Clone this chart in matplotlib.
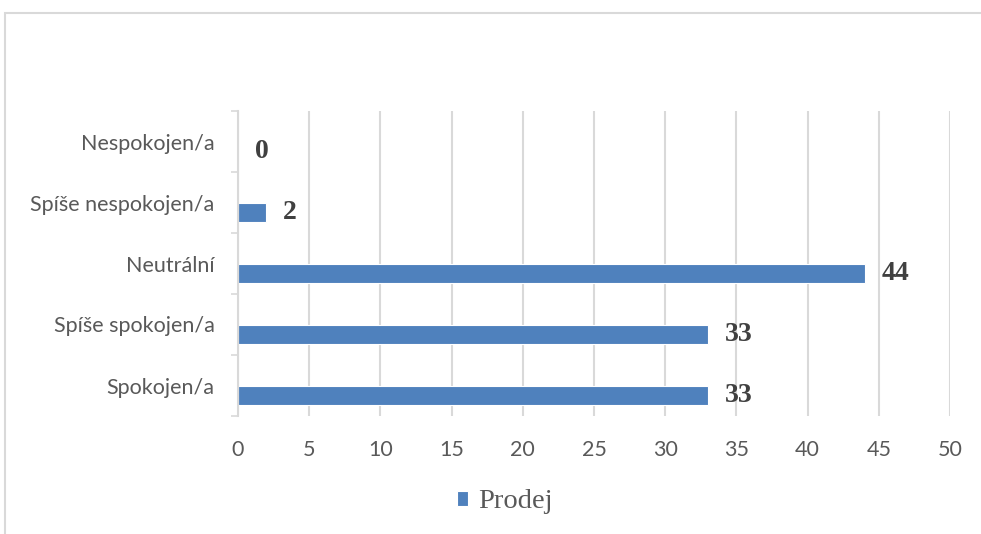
import matplotlib.pyplot as plt
from matplotlib.patches import Rectangle

# categories bottom -> top, as drawn on the chart
categories = ['Spokojen/a', 'Spíše spokojen/a', 'Neutrální', 'Spíše nespokojen/a', 'Nespokojen/a']
values = [33, 33, 44, 2, 0]
series_name = 'Prodej'
xticks = [0, 5, 10, 15, 20, 25, 30, 35, 40, 45, 50]

BLUE = '#4F81BD'
GRID = '#D9D9D9'
TEXT = '#595959'
SANS = 'Lato'

fig = plt.figure(figsize=(9.81, 5.34), dpi=100)
ax = fig.add_axes([238 / 981, 1 - 416 / 534, (950 - 238) / 981, (416 - 111) / 534])

# bars sit a little below the category centre (excel clustered layout)
ypos = [i - 0.165 for i in range(len(categories))]
bars = ax.barh(ypos, values, height=0.3, color=BLUE,
               edgecolor='white', linewidth=0.8, label=series_name, zorder=3)

ax.set_xlim(0, 50)
ax.set_ylim(-0.5, len(categories) - 0.5)
ax.set_xticks(xticks)
ax.set_yticks(range(len(categories)))
ax.set_yticklabels(categories, fontfamily=SANS, fontsize=15.5, color=TEXT)
for lbl in ax.get_xticklabels():
    lbl.set_fontfamily(SANS)
    lbl.set_fontsize(15.5)
    lbl.set_color(TEXT)

# category boundary ticks on the y axis
ax.set_yticks([i - 0.5 for i in range(len(categories) + 1)], minor=True)
ax.tick_params(axis='y', which='major', length=0, pad=17)
ax.tick_params(axis='y', which='minor', length=5, color=GRID, width=1.2)
ax.tick_params(axis='x', length=0, pad=17)

ax.grid(axis='x', color=GRID, linewidth=1.5, zorder=0)
for s in ['top', 'right', 'bottom']:
    ax.spines[s].set_visible(False)
ax.spines['left'].set_color(GRID)
ax.spines['left'].set_linewidth(1.5)
ax.spines['left'].set_zorder(4)

ax.bar_label(bars, padding=12, fontfamily='Liberation Serif', fontweight='bold',
             fontsize=20, color='#404040')

leg = fig.legend(loc='center', bbox_to_anchor=(505 / 981, 1 - 502 / 534), frameon=False,
                 prop={'family': 'Liberation Serif', 'size': 20.5},
                 handlelength=0.4, handleheight=0.4, handletextpad=0.35)
for t in leg.get_texts():
    t.set_color(TEXT)

# outer chart border
fig.patches.append(Rectangle((5 / 981, -0.05), 1.1, 1.05 - 13 / 534, transform=fig.transFigure,
                             fill=False, edgecolor=GRID, linewidth=1.5))

fig.savefig('out.png', dpi=100)
